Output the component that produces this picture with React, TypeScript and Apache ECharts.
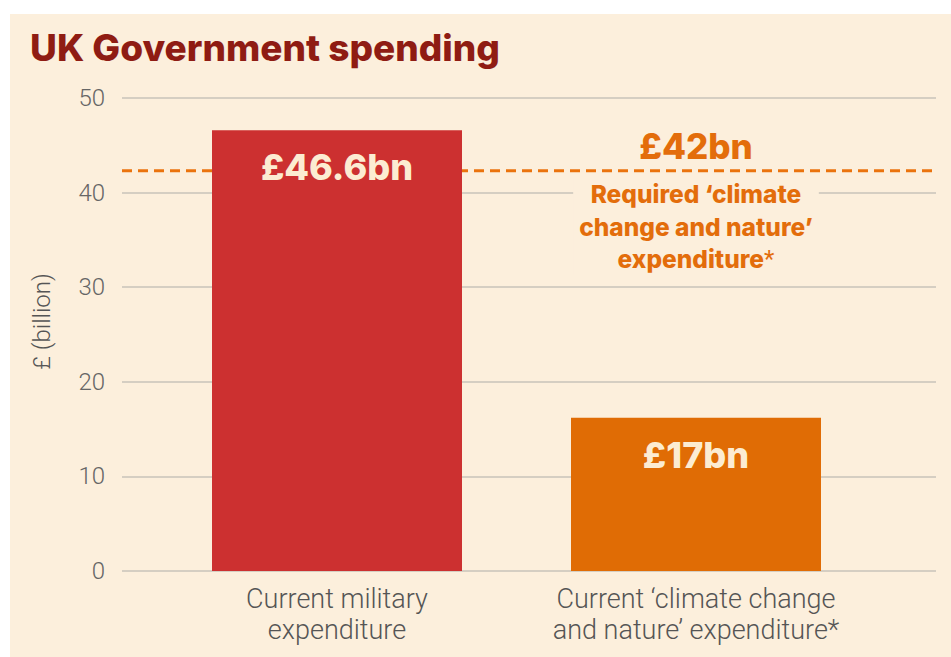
import React, { useEffect, useRef } from "react";
import * as echarts from "echarts";

const categories = [
  "Current military\nexpenditure",
  "Current \u2018climate change\nand nature\u2019 expenditure*",
];
const values = [46.6, 16.2];
const valueLabels = ["\u00a346.6bn", "\u00a317bn"];
const requiredLevel = 42.3;
const requiredLabel = "\u00a342bn";
const requiredCaption = ["Required \u2018climate", "change and nature\u2019", "expenditure"];
const yMin = 0;
const yMax = 50;
const yInterval = 10;

const CREAM = "#fcefdc";
const ORANGE_TEXT = "#e36d0b";
const BAR_COLORS = ["#cc3030", "#e06c05"];
const BOLD_FONT = "Inter";
const LIGHT_FONT = "Roboto";

export default function App() {
  const ref = useRef<HTMLDivElement>(null);
  useEffect(() => {
    if (!ref.current) return;
    const chart = echarts.init(ref.current, undefined, { renderer: "svg" });
    const top = 98;
    const bottom = 86;
    chart.setOption({
      animation: false,
      backgroundColor: "transparent",
      title: {
        text: "UK Government spending",
        left: 30,
        top: 29,
        padding: 0,
        textStyle: { fontFamily: BOLD_FONT, fontWeight: 800, fontSize: 37, color: "#8f1c13" },
      },
      grid: [
        { left: 122, right: 15, top, bottom },
        { left: 157.5, right: 75.5, top, bottom },
      ],
      xAxis: [
        { gridIndex: 0, type: "value", min: 0, max: 1, show: false },
        {
          gridIndex: 1,
          type: "category",
          data: categories,
          axisLine: { show: false },
          axisTick: { show: false },
          axisLabel: {
            interval: 0,
            hideOverlap: false,
            fontFamily: LIGHT_FONT,
            fontWeight: 300,
            fontSize: 27,
            lineHeight: 31,
            color: "#555555",
            margin: 12,
          },
        },
      ],
      yAxis: [
        {
          gridIndex: 0,
          type: "value",
          min: yMin,
          max: yMax,
          interval: yInterval,
          axisLine: { show: false },
          axisTick: { show: false },
          splitLine: { lineStyle: { color: "#c9c3ba", width: 1.5 } },
          axisLabel: {
            fontFamily: LIGHT_FONT,
            fontWeight: 300,
            fontSize: 24,
            color: "#666666",
            margin: 17,
          },
          name: "\u00a3 (billion)",
          nameLocation: "middle",
          nameRotate: 90,
          nameGap: 68,
          nameTextStyle: {
            fontFamily: LIGHT_FONT,
            fontWeight: 300,
            fontSize: 24,
            color: "#555555",
            padding: [0, 0, 0, 26],
          },
        },
        { gridIndex: 1, type: "value", min: yMin, max: yMax, interval: yInterval, show: false },
      ],
      series: [
        {
          type: "line",
          xAxisIndex: 0,
          yAxisIndex: 0,
          z: 1,
          symbol: "none",
          silent: true,
          data: [
            [0, requiredLevel],
            [1, requiredLevel],
          ],
          lineStyle: { color: "#ea730d", width: 3, type: [10, 6] },
        },
        {
          type: "bar",
          xAxisIndex: 1,
          yAxisIndex: 1,
          z: 3,
          barWidth: 250,
          data: values.map((v, i) => ({ value: v, itemStyle: { color: BAR_COLORS[i] } })),
          label: {
            show: true,
            position: "insideTop",
            distance: 19,
            formatter: (p: any) => valueLabels[p.dataIndex],
            fontFamily: BOLD_FONT,
            fontWeight: 800,
            fontSize: 36,
            color: "#fcecd2",
          },
        },
      ],
    });

    const cx = chart.convertToPixel({ xAxisIndex: 1 }, categories[1]) as number;
    const ly = chart.convertToPixel({ yAxisIndex: 0 }, requiredLevel) as number;
    chart.setOption({
      graphic: [
        {
          type: "text",
          x: cx,
          y: ly - 25,
          z: 10,
          style: {
            text: requiredLabel,
            x: 0,
            y: 0,
            align: "center",
            verticalAlign: "middle",
            fontFamily: BOLD_FONT,
            fontWeight: 800,
            fontSize: 35,
            fill: ORANGE_TEXT,
          },
        },
        {
          type: "text",
          x: cx,
          y: ly + 7,
          z: 10,
          style: {
            text: `{b|${requiredCaption[0]}}\n{b|${requiredCaption[1]}}\n{b|${requiredCaption[2]}}{s|*}`,
            align: "center",
            verticalAlign: "top",
            backgroundColor: CREAM,
            padding: [0, 6, 0, 6],
            rich: {
              b: {
                fontFamily: BOLD_FONT,
                fontWeight: 800,
                fontSize: 24.5,
                lineHeight: 32.5,
                fill: ORANGE_TEXT,
                color: ORANGE_TEXT,
              },
              s: {
                fontFamily: LIGHT_FONT,
                fontWeight: 400,
                fontSize: 24,
                lineHeight: 32.5,
                fill: ORANGE_TEXT,
                color: ORANGE_TEXT,
              },
            },
          },
        },
      ],
    });
    return () => chart.dispose();
  }, []);

  return (
    <div style={{ position: "fixed", left: 0, top: 0, width: 951, height: 657, background: "#ffffff" }}>
      <div style={{ position: "absolute", left: 10, top: 14, right: 0, bottom: 0, background: CREAM }} />
      <div ref={ref} style={{ position: "absolute", left: 0, top: 0, width: 951, height: 657 }} />
    </div>
  );
}
